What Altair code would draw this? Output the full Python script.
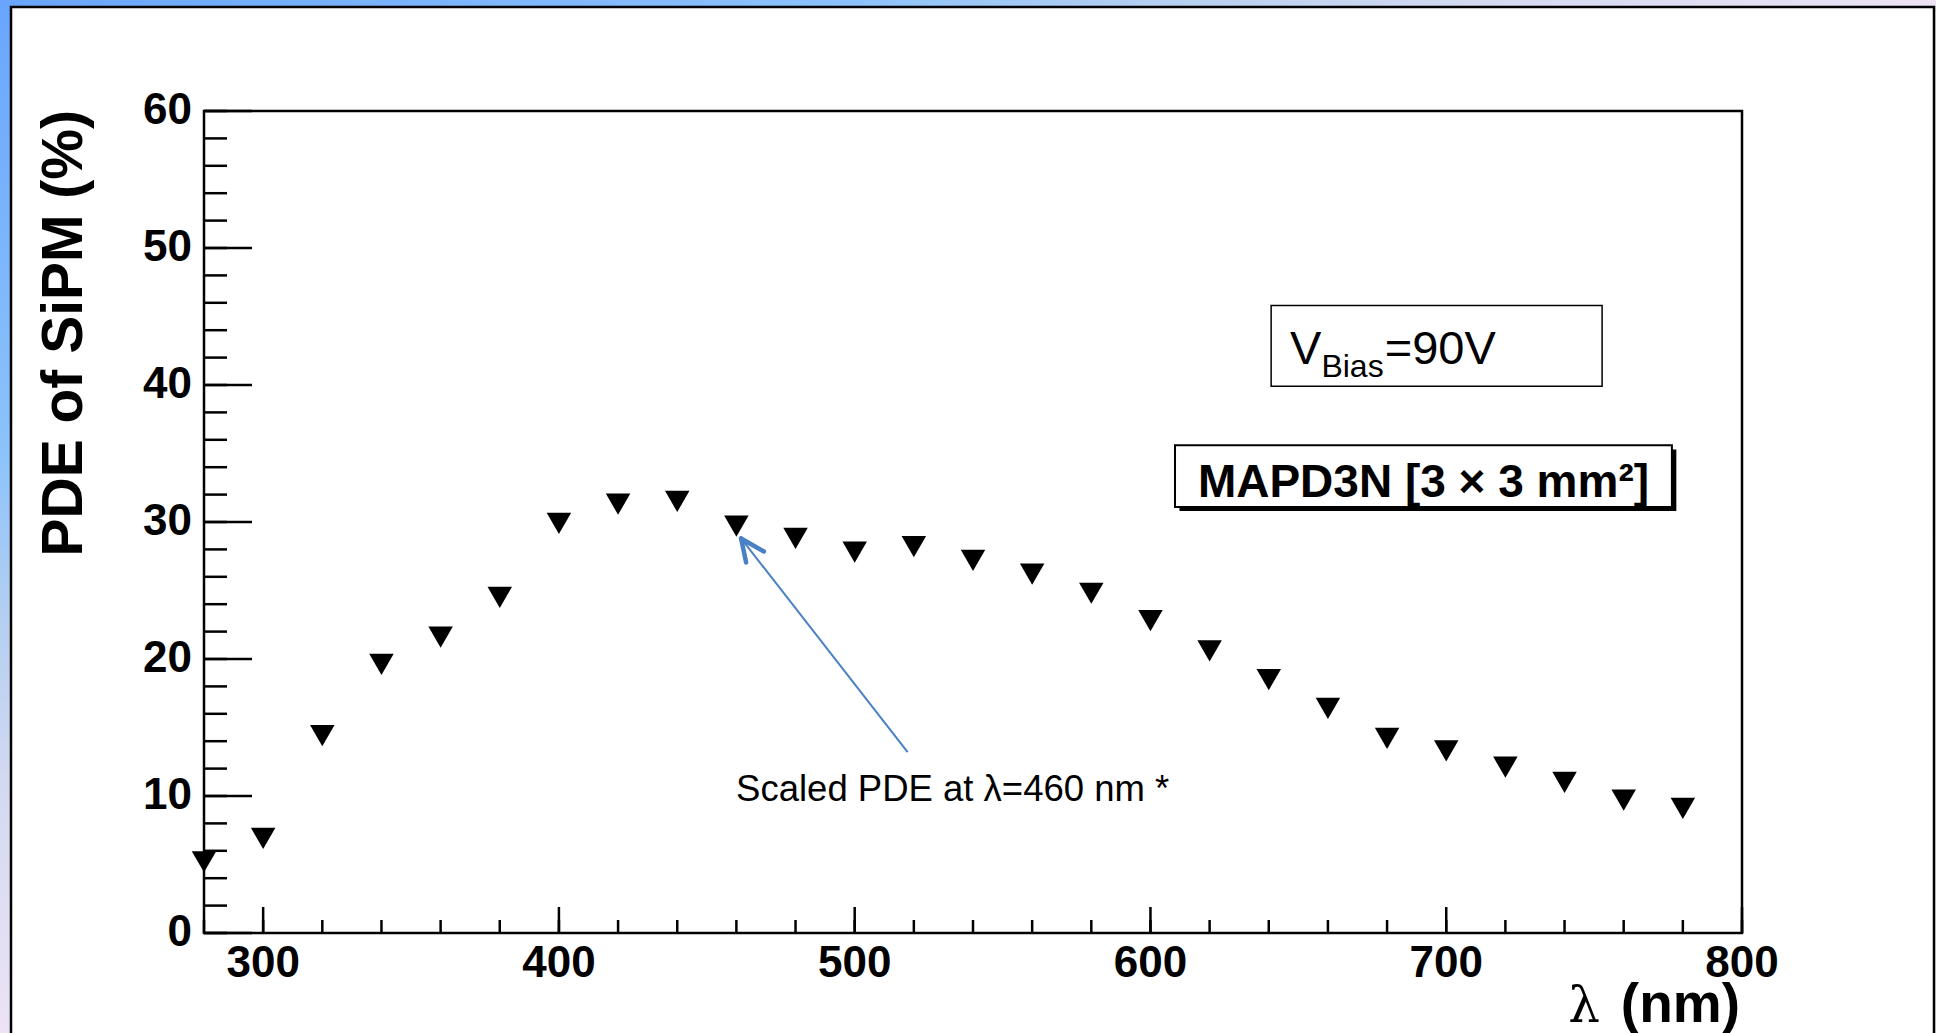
import altair as alt
import pandas as pd

# ---------------- data ----------------
wavelength = [280, 300, 320, 340, 360, 380, 400, 420, 440, 460, 480, 500, 520,
              540, 560, 580, 600, 620, 640, 660, 680, 700, 720, 740, 760, 780]
pde = [5.2, 6.9, 14.4, 19.6, 21.6, 24.5, 29.9, 31.3, 31.5, 29.7, 28.8, 27.8, 28.2,
       27.2, 26.2, 24.8, 22.8, 20.6, 18.5, 16.4, 14.2, 13.3, 12.1, 11.0, 9.7, 9.1]

x_major_ticks = [300, 400, 500, 600, 700, 800]
x_tick_labels = ["300", "400", "500", "600", "700", "800"]
x_minor_ticks = [280, 300, 320, 340, 360, 380, 400, 420, 440, 460, 480, 500, 520, 540,
                 560, 580, 600, 620, 640, 660, 680, 700, 720, 740, 760, 780, 800]
y_major_ticks = [0, 10, 20, 30, 40, 50, 60]
y_tick_labels = ["0", "10", "20", "30", "40", "50", "60"]
y_minor_ticks = [0, 2, 4, 6, 8, 10, 12, 14, 16, 18, 20, 22, 24, 26, 28, 30, 32, 34, 36,
                 38, 40, 42, 44, 46, 48, 50, 52, 54, 56, 58, 60]

x_title_symbol = "λ"
x_title_unit = "(nm)"
y_title = "PDE of SiPM (%)"
note_text = "Scaled PDE at λ=460 nm *"
device_text = "MAPD3N [3 × 3 mm²]"

# annotation anchors in data units (nm, %)
note_pos = {"x": [459.9], "y": [9.6], "t": [note_text]}
arrow_line = {"x": [517.9], "y": [13.2], "x2": [461.6], "y2": [28.8]}
arrow_head = {"x": [461.6, 461.6], "y": [28.8, 28.8], "x2": [469.3, 463.3], "y2": [27.85, 27.04]}
vbias_box = {"x": [640.8], "x2": [752.7], "y": [39.9], "y2": [45.8]}
vbias_main = {"x": [647.2, 679.2], "y": [41.5, 41.5], "t": ["V", "=90V"]}
vbias_sub = {"x": [657.8], "y": [40.55], "t": ["Bias"]}
dev_box = {"x": [608.3], "x2": [776.3], "y": [31.1], "y2": [35.6]}
dev_shadow = {"x": [609.8], "x2": [777.8], "y": [30.8], "y2": [35.3]}
dev_label = {"x": [692.3], "y": [31.8], "t": [device_text]}

# ---------------- layout ----------------
W, H = 1538, 822
PAD_L, PAD_T = 204, 111
TOTAL_W, TOTAL_H = 1936, 1033
FONT = "Liberation Sans"

XS = alt.Scale(domain=[280, 800], nice=False, zero=False)
YS = alt.Scale(domain=[0, 60], nice=False, zero=False)
one = pd.DataFrame({"k": [0]})

gradient = {
    "gradient": "linear", "x1": 0, "y1": 0, "x2": 1, "y2": 1,
    "stops": [
        {"offset": 0.0, "color": "#69a5fd"},
        {"offset": 0.22, "color": "#8cc3fb"},
        {"offset": 0.30, "color": "#b4cff1"},
        {"offset": 0.38, "color": "#d3d9f1"},
        {"offset": 0.5, "color": "#ece3f5"},
        {"offset": 1.0, "color": "#fbe9f7"},
    ],
}

bg = alt.Chart(one).mark_rect(fill=gradient, clip=False).encode(
    x=alt.value(-PAD_L), x2=alt.value(TOTAL_W - PAD_L),
    y=alt.value(-PAD_T), y2=alt.value(TOTAL_H - PAD_T))

panel = alt.Chart(one).mark_rect(fill="white", stroke="black", strokeWidth=2.5, clip=False).encode(
    x=alt.value(11 - PAD_L), x2=alt.value(1934 - PAD_L),
    y=alt.value(7 - PAD_T), y2=alt.value(TOTAL_H - PAD_T + 20))

frame = alt.Chart(one).mark_rect(fill="transparent", stroke="black", strokeWidth=2.5).encode(
    x=alt.value(0), x2=alt.value(W), y=alt.value(0), y2=alt.value(H))

points = alt.Chart(pd.DataFrame({"wavelength": wavelength, "pde": pde})).mark_point(
    shape="triangle-down", filled=True, fill="black", size=600, opacity=1, strokeWidth=0
).encode(
    x=alt.X("wavelength:Q", scale=XS, axis=None),
    y=alt.Y("pde:Q", scale=YS, axis=None),
)

def yticks(vals, length):
    return alt.Chart(pd.DataFrame({"v": vals})).mark_rule(color="black", strokeWidth=2.5).encode(
        y=alt.Y("v:Q", scale=YS, axis=None), x=alt.value(0), x2=alt.value(length))

def xticks(vals, length):
    return alt.Chart(pd.DataFrame({"v": vals})).mark_rule(color="black", strokeWidth=2.5).encode(
        x=alt.X("v:Q", scale=XS, axis=None), y=alt.value(H), y2=alt.value(H - length))

x_labels = alt.Chart(pd.DataFrame({"v": x_major_ticks, "t": x_tick_labels})).mark_text(
    align="center", baseline="top", font=FONT, fontSize=44, fontWeight="bold", color="black"
).encode(x=alt.X("v:Q", scale=XS, axis=None), y=alt.value(H + 9), text="t:N")

y_labels = alt.Chart(pd.DataFrame({"v": y_major_ticks, "t": y_tick_labels})).mark_text(
    align="right", baseline="middle", font=FONT, fontSize=44, fontWeight="bold", color="black"
).encode(y=alt.Y("v:Q", scale=YS, axis=None), x=alt.value(-12), text="t:N")

x_title_unit_mark = alt.Chart(pd.DataFrame({"t": [x_title_unit]})).mark_text(
    align="right", baseline="alphabetic", font=FONT, fontSize=55, fontWeight="bold", color="black"
).encode(x=alt.value(W - 2), y=alt.value(H + 89), text="t:N")

x_title_sym_mark = alt.Chart(pd.DataFrame({"t": [x_title_symbol]})).mark_text(
    align="right", baseline="alphabetic", font="DejaVu Serif", fontSize=50, color="black"
).encode(x=alt.value(1600 - PAD_L), y=alt.value(H + 89), text="t:N")

y_title_mark = alt.Chart(pd.DataFrame({"t": [y_title]})).mark_text(
    align="right", baseline="alphabetic", angle=270, font=FONT, fontSize=57, fontWeight="bold",
    color="black"
).encode(x=alt.value(-122), y=alt.value(-1), text="t:N")

def xy(df_dict):
    return pd.DataFrame(df_dict)

enc_xy = dict(x=alt.X("x:Q", scale=XS, axis=None), y=alt.Y("y:Q", scale=YS, axis=None))

note = alt.Chart(xy(note_pos)).mark_text(
    align="left", baseline="alphabetic", font=FONT, fontSize=36.5, color="black"
).encode(text="t:N", **enc_xy)

ARROW = "#4a80c4"
arrow1 = alt.Chart(xy(arrow_line)).mark_rule(color=ARROW, strokeWidth=2).encode(
    x2="x2:Q", y2="y2:Q", **enc_xy)
arrow2 = alt.Chart(xy(arrow_head)).mark_rule(color=ARROW, strokeWidth=4.5, strokeCap="round").encode(
    x2="x2:Q", y2="y2:Q", **enc_xy)

vb_box = alt.Chart(xy(vbias_box)).mark_rect(fill="white", stroke="black", strokeWidth=1.5).encode(
    x2="x2:Q", y2="y2:Q", **enc_xy)
vb_main = alt.Chart(xy(vbias_main)).mark_text(
    align="left", baseline="alphabetic", font=FONT, fontSize=47, color="black"
).encode(text="t:N", **enc_xy)
vb_sub = alt.Chart(xy(vbias_sub)).mark_text(
    align="left", baseline="alphabetic", font=FONT, fontSize=32, color="black"
).encode(text="t:N", **enc_xy)

dv_shadow = alt.Chart(xy(dev_shadow)).mark_rect(fill="black").encode(
    x2="x2:Q", y2="y2:Q", **enc_xy)
dv_box = alt.Chart(xy(dev_box)).mark_rect(fill="white", stroke="black", strokeWidth=2).encode(
    x2="x2:Q", y2="y2:Q", **enc_xy)
dv_text = alt.Chart(xy(dev_label)).mark_text(
    align="center", baseline="alphabetic", font=FONT, fontSize=46, fontWeight="bold", color="black"
).encode(text="t:N", **enc_xy)

chart = alt.layer(
    bg, panel, frame,
    yticks(y_minor_ticks, 23), yticks(y_major_ticks, 48),
    xticks(x_minor_ticks, 13), xticks(x_major_ticks, 26),
    x_labels, y_labels, x_title_unit_mark, x_title_sym_mark, y_title_mark,
    points,
    vb_box, vb_main, vb_sub,
    dv_shadow, dv_box, dv_text,
    arrow1, arrow2, note,
).properties(
    width=W, height=H,
    autosize=alt.AutoSizeParams(type="none"),
    padding={"left": PAD_L, "top": PAD_T, "right": TOTAL_W - PAD_L - W, "bottom": TOTAL_H - PAD_T - H},
    background="white",
).configure_view(strokeWidth=0)

chart.save("out.html", embed_options={"renderer": "svg", "actions": False})
